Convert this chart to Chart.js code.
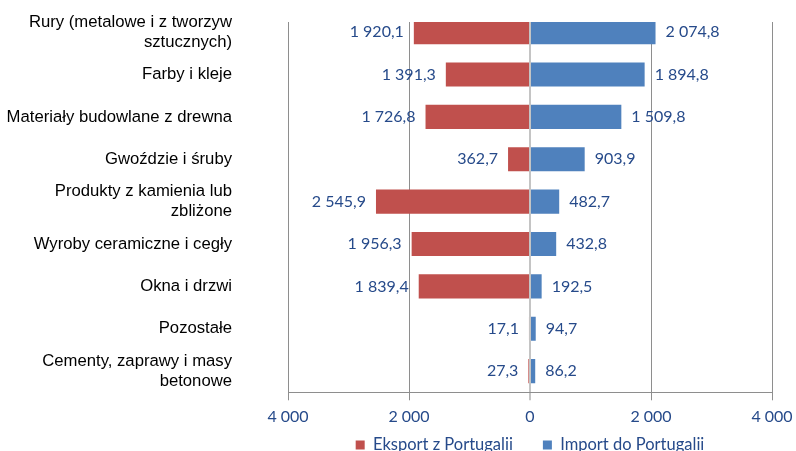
<!DOCTYPE html>
<html>
<head>
<meta charset="utf-8">
<script src="https://cdn.jsdelivr.net/npm/chart.js@4"></script>
<style>
  html, body { margin: 0; padding: 0; background: #fff; }
  #wrap { width: 796px; height: 451px; }
</style>
</head>
<body>
<div id="wrap"><canvas id="canvas" width="796" height="451"></canvas></div>
<script>
const categories = [
    ['Rury (metalowe i z tworzyw', 'sztucznych)'],
    'Farby i kleje',
    'Materiały budowlane z drewna',
    'Gwoździe i śruby',
    ['Produkty z kamienia lub', 'zbliżone'],
    'Wyroby ceramiczne i cegły',
    'Okna i drzwi',
    'Pozostałe',
    ['Cementy, zaprawy i masy', 'betonowe']
];
const exportValues = [1920.1, 1391.3, 1726.8, 362.7, 2545.9, 1956.3, 1839.4, 17.1, 27.3];
const importValues = [2074.8, 1894.8, 1509.8, 903.9, 482.7, 432.8, 192.5, 94.7, 86.2];
const seriesNames = ['Eksport z Portugalii', 'Import do Portugalii'];

const textBlue = '#264A8A';
const plotFrameTop = 22;   // top edge of the plot frame (first bar is cut there)
const legendTextY = 445;

// 1 920,1 style
function formatPl(n, decimals) {
    let s = Math.abs(n).toFixed(decimals);
    let parts = s.split('.');
    parts[0] = parts[0].replace(/\B(?=(\d{3})+(?!\d))/g, ' ');
    return parts.join(',');
}

const valueLabels = {
    id: 'valueLabels',
    afterLayout(chart) {
        // legend centred under the plot, not the whole canvas
        const lg = chart.legend;
        const area = chart.chartArea;
        const h = lg.bottom - lg.top;
        lg.left = area.left;
        lg.right = area.right;
        lg.width = area.right - area.left;
        const pad = lg.options.labels.padding;
        lg.top = legendTextY - pad - lg.options.labels.font.size / 2;
        lg.bottom = lg.top + h;
    },
    afterDatasetsDraw(chart) {
        const ctx = chart.ctx;
        const area = chart.chartArea;
        ctx.save();
        ctx.fillStyle = '#fff';
        ctx.fillRect(area.left - 2, 0, area.right - area.left + 4, plotFrameTop);
        ctx.font = '16px Lato';
        ctx.fillStyle = textBlue;
        ctx.textBaseline = 'middle';
        chart.data.datasets.forEach((ds, di) => {
            const meta = chart.getDatasetMeta(di);
            meta.data.forEach((bar, i) => {
                const v = ds.data[i];
                const txt = formatPl(v, 1);
                if (v < 0) {
                    ctx.textAlign = 'right';
                    ctx.fillText(txt, Math.min(bar.x, bar.base) - 10, bar.y);
                } else {
                    ctx.textAlign = 'left';
                    ctx.fillText(txt, Math.max(bar.x, bar.base) + 10, bar.y);
                }
            });
        });
        ctx.restore();
    }
};

const data = {
    labels: categories,
    datasets: [{
        label: seriesNames[0],
        data: exportValues.map(v => -v),
        backgroundColor: '#C0504D',
        barPercentage: 1,
        categoryPercentage: 0.57
    },
    {
        label: seriesNames[1],
        data: importValues,
        backgroundColor: '#4F81BD',
        barPercentage: 1,
        categoryPercentage: 0.57
    }]
};

const config = {
    type: 'bar',
    data: data,
    plugins: [valueLabels],
    options: {
        indexAxis: 'y',
        responsive: false,
        animation: false,
        layout: {
            padding: { left: 0, right: 0, top: 11, bottom: -39 }
        },
        plugins: {
            tooltip: { enabled: false },
            legend: {
                position: 'bottom',
                labels: {
                    boxWidth: 9,
                    boxHeight: 9,
                    padding: 30,
                    color: textBlue,
                    font: { family: 'Lato', size: 16.5 }
                }
            }
        },
        scales: {
            x: {
                stacked: true,
                min: -4000,
                max: 4000,
                afterFit: s => {
                    s.paddingLeft = 0;
                    s.paddingRight = 24;
                },
                ticks: {
                    stepSize: 2000,
                    color: textBlue,
                    font: { family: 'Lato', size: 16 },
                    padding: 7,
                    callback: v => formatPl(v, 0)
                },
                grid: {
                    color: c => c.tick && c.tick.value === 0 ? '#C4C4C4' : '#8E8E8E',
                    lineWidth: c => c.tick && c.tick.value === 0 ? 2 : 1,
                    tickLength: 8
                },
                border: { color: '#8E8E8E' }
            },
            y: {
                stacked: true,
                afterFit: s => {
                    s.width = 288;
                    s.paddingTop = 0;
                    s.paddingBottom = 0;
                },
                ticks: {
                    color: '#000',
                    padding: 4,
                    autoSkip: false,
                    font: { family: 'Liberation Sans', size: 16.7, lineHeight: 1.2 }
                },
                grid: { display: false, drawTicks: true, tickLength: 52 },
                border: { display: false }
            }
        }
    }
};

const chart = new Chart(document.getElementById('canvas'), config);
</script>
</body>
</html>
